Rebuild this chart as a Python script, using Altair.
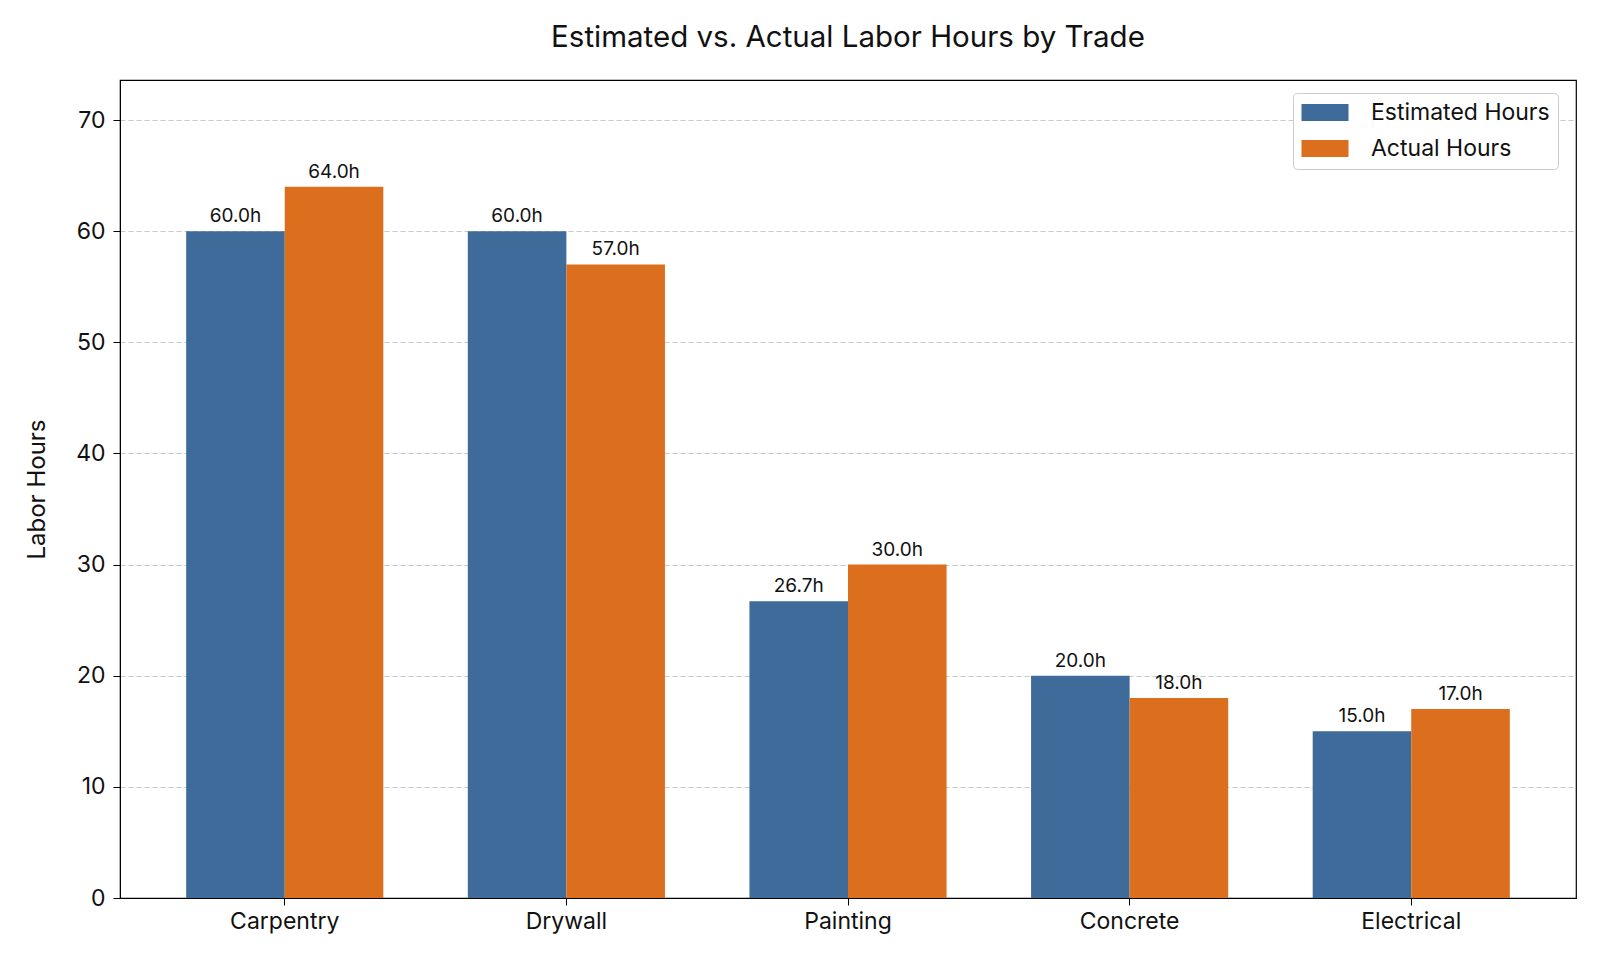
import altair as alt
import pandas as pd

trades = ["Carpentry", "Drywall", "Painting", "Concrete", "Electrical"]
estimated = [60.0, 60.0, 26.7, 20.0, 15.0]
actual = [64.0, 57.0, 30.0, 18.0, 17.0]
series = ["Estimated Hours", "Actual Hours"]
colors = ["#3e6b99", "#dc6f1d"]
y_ticks = [0, 10, 20, 30, 40, 50, 60, 70]

rows = []
for t, e, a in zip(trades, estimated, actual):
    rows.append({"trade": t, "series": series[0], "hours": e})
    rows.append({"trade": t, "series": series[1], "hours": a})
df = pd.DataFrame(rows)

FONT = "Inter"
TXT = "#111111"

x_enc = alt.X("trade:N", sort=trades, title=None,
              scale=alt.Scale(paddingInner=0.3, paddingOuter=0.235),
              axis=alt.Axis(labelAngle=0, labelFontSize=23, labelColor=TXT,
                            tickSize=7, tickColor="black", domainColor="black",
                            labelPadding=5, grid=False))
xoff = alt.XOffset("series:N", sort=series, scale=alt.Scale(paddingInner=0, paddingOuter=0))
y_enc = alt.Y("hours:Q", title="Labor Hours",
              scale=alt.Scale(domain=[0, 73.6], nice=False, zero=True),
              axis=alt.Axis(values=y_ticks, labelFontSize=23, labelColor=TXT,
                            tickSize=7, tickColor="black", domainColor="black",
                            labelPadding=8, grid=True, gridColor="#c8c8c8",
                            gridDash=[5, 3], gridWidth=1.2,
                            titleFontSize=24, titleFontWeight="normal",
                            titleColor=TXT, titleAngle=270,
                            titleX=-83, titleY=409, titleAlign="center",
                            titleBaseline="middle"))

bars = alt.Chart(df).mark_bar(stroke=None).encode(
    x=x_enc,
    xOffset=xoff,
    y=y_enc,
    color=alt.Color("series:N", sort=series,
                    scale=alt.Scale(domain=series, range=colors),
                    legend=alt.Legend(title=None, orient="none", legendX=1173, legendY=13,
                                      symbolType="M-1,-0.773L3.273,-0.773L3.273,0.773L-1,0.773Z",
                                      symbolSize=484, symbolStrokeWidth=0,
                                      labelFontSize=23, labelColor=TXT, labelLimit=500,
                                      labelOffset=47, padding=8, rowPadding=12,
                                      strokeColor="#cccccc", fillColor="white",
                                      cornerRadius=4)),
)

labels = alt.Chart(df).transform_calculate(
    label="format(datum.hours, '.1f') + 'h'"
).mark_text(fontSize=19, baseline="alphabetic", dy=-9, color=TXT).encode(
    x=alt.X("trade:N", sort=trades),
    xOffset=alt.XOffset("series:N", sort=series),
    y=alt.Y("hours:Q"),
    text="label:N",
)

chart = alt.layer(bars, labels).properties(
    width=1456, height=818,
    title=alt.TitleParams("Estimated vs. Actual Labor Hours by Trade", fontSize=29.5,
                          fontWeight="normal", color=TXT, anchor="middle", offset=27),
    autosize=alt.AutoSizeParams(type="none"),
    padding={"left": 112, "top": 72, "right": 16, "bottom": 40},
).configure(font=FONT).configure_view(stroke="black", strokeWidth=1.2)

chart.save("out.html", embed_options={"renderer": "svg", "actions": False})
